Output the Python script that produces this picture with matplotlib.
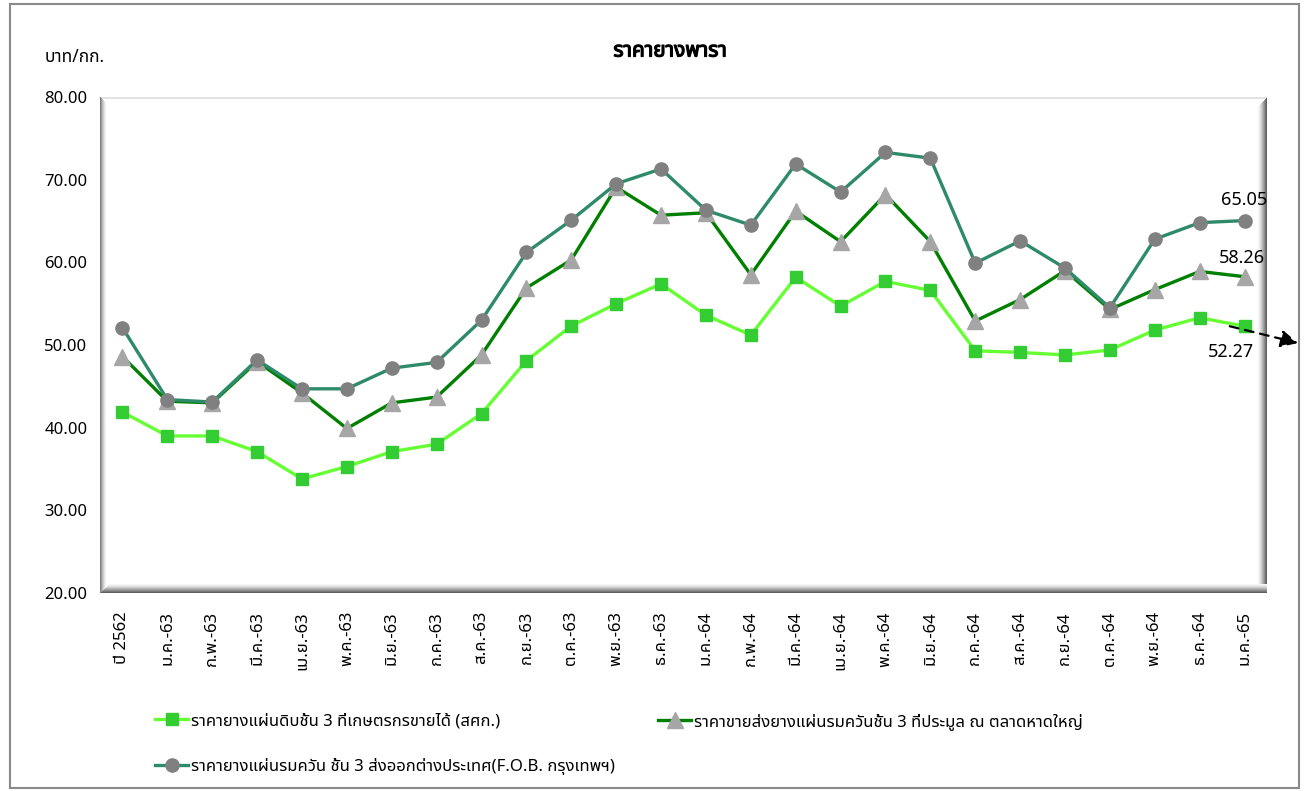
import matplotlib
matplotlib.use("Agg")
import matplotlib.pyplot as plt
import matplotlib.patheffects as pe
from matplotlib import font_manager
from matplotlib.patches import Rectangle

pref = ["Noto Sans Thai", "Noto Sans Thai Looped", "Sarabun", "Anuphan"]
installed = {f.name for f in font_manager.fontManager.ttflist}
thai_font = next((p for p in pref if p in installed), "DejaVu Sans")
plt.rcParams['font.family'] = [thai_font, 'DejaVu Sans']

months = ['ปี 2562', 'ม.ค.-63', 'ก.พ.-63', 'มี.ค.-63', 'เม.ย.-63', 'พ.ค.-63', 'มิ.ย.-63',
          'ก.ค.-63', 'ส.ค.-63', 'ก.ย.-63', 'ต.ค.-63', 'พ.ย.-63', 'ธ.ค.-63', 'ม.ค.-64',
          'ก.พ.-64', 'มี.ค.-64', 'เม.ย.-64', 'พ.ค.-64', 'มิ.ย.-64', 'ก.ค.-64', 'ส.ค.-64',
          'ก.ย.-64', 'ต.ค.-64', 'พ.ย.-64', 'ธ.ค.-64', 'ม.ค.-65']
raw_sheet = [41.9, 39.0, 39.0, 37.1, 33.8, 35.3, 37.1, 38.0, 41.7, 48.1, 52.3, 55.0, 57.4,
             53.6, 51.2, 58.2, 54.7, 57.7, 56.6, 49.3, 49.1, 48.8, 49.4, 51.8, 53.3, 52.27]
smoked_hy = [48.6, 43.2, 43.0, 48.0, 44.2, 39.9, 43.0, 43.7, 48.8, 56.9, 60.3, 69.1, 65.7,
             66.0, 58.5, 66.2, 62.5, 68.2, 62.5, 52.9, 55.5, 59.0, 54.3, 56.7, 58.9, 58.26]
smoked_fob = [52.1, 43.4, 43.1, 48.2, 44.7, 44.7, 47.2, 47.9, 53.0, 61.2, 65.1, 69.5, 71.3,
              66.3, 64.5, 71.9, 68.5, 73.3, 72.6, 59.9, 62.6, 59.3, 54.5, 62.8, 64.8, 65.05]
labels = ['ราคายางแผ่นดิบชั้น 3 ที่เกษตรกรขายได้ (สศก.)',
          'ราคาขายส่งยางแผ่นรมควันชั้น 3 ที่ประมูล ณ ตลาดหาดใหญ่',
          'ราคายางแผ่นรมควัน ชั้น 3 ส่งออกต่างประเทศ(F.O.B. กรุงเทพฯ)']

W, H = 1306, 791
fig = plt.figure(figsize=(W / 100, H / 100), dpi=100)
ax = fig.add_axes([100 / W, 1 - 593 / H, 1167 / W, 496 / H])

x = range(len(months))
l1, = ax.plot(x, raw_sheet, color='#66FF33', lw=2.4, marker='s', ms=8.8,
              mfc='#33CC33', mec='#33CC33', label=labels[0], zorder=3)
l2, = ax.plot(x, smoked_hy, color='#008000', lw=2.4, marker='^', ms=11,
              mfc='#A6A6A6', mec='#A6A6A6', label=labels[1], zorder=3)
l3, = ax.plot(x, smoked_fob, color='#2E8B6A', lw=2.4, marker='o', ms=9.5,
              mfc='#808080', mec='#808080', label=labels[2], zorder=3)

ax.set_xlim(-0.5, len(months) - 0.5)
ax.set_ylim(20, 80)
ax.set_yticks([20, 30, 40, 50, 60, 70, 80])
ax.set_yticklabels([f'{v:.2f}' for v in [20, 30, 40, 50, 60, 70, 80]], fontsize=12)
ax.set_xticks(list(x))
ax.set_xticklabels(months, rotation=90, fontsize=12)
ax.tick_params(length=0)
ax.tick_params(axis='y', pad=9)
ax.tick_params(axis='x', pad=13)
for s in ax.spines.values():
    s.set_visible(False)

# bevelled frame around the plot area (drawn under the lines and labels)
def px_rect(x0, y0, w, h, c):
    ax.add_patch(Rectangle((x0 / W, 1 - (y0 + h) / H), w / W, h / H, transform=fig.transFigure,
                           facecolor=c, edgecolor='none', clip_on=False, zorder=1))

px_rect(100, 97, 1167, 2, '#e2e2e2')
for i, c in enumerate(['#808080', '#9c9c9c', '#b8b8b8', '#d0d0d0', '#e4e4e4', '#f3f3f3']):
    px_rect(100 + i, 97 + i, 1, 496 - i, c)
shades = ['#f6f6f6', '#ececec', '#dedede', '#cccccc', '#b8b8b8', '#a2a2a2',
          '#8c8c8c', '#767676', '#606060']
for i, c in enumerate(shades):
    px_rect(1258 + i, 97 + 9 - i, 1, 496 - 9 + i, c)
for i, c in enumerate(shades):
    px_rect(100 + 9 - i, 584 + i, 1167 - 9 + i, 1, c)

# end labels
ax.annotate(f'{smoked_fob[-1]:.2f}', (25, smoked_fob[-1]), xytext=(0, 15),
            textcoords='offset points', ha='center', va='center', fontsize=13, zorder=5)
ax.annotate(f'{smoked_hy[-1]:.2f}', (25, smoked_hy[-1]), xytext=(-2, 13.5),
            textcoords='offset points', ha='center', va='center', fontsize=13, zorder=5)
ax.annotate(f'{raw_sheet[-1]:.2f}', (25, raw_sheet[-1]), xytext=(-10, -18.5),
            textcoords='offset points', ha='center', va='center', fontsize=13, zorder=5)
ax.annotate('', xy=(1298 / W, 1 - 343 / H), xycoords='figure fraction',
            xytext=(25 - 0.33, raw_sheet[-1]), textcoords='data', annotation_clip=False,
            arrowprops=dict(arrowstyle='-|>', color='black', lw=1.6, ls=(0, (4, 3)),
                            mutation_scale=26, shrinkA=0, shrinkB=0), zorder=5)

# outer chart border
fig.add_artist(Rectangle((10 / W, 1 - 788 / H), 1289 / W, 784 / H, transform=fig.transFigure,
                         facecolor='none', edgecolor='#8a8a8a', lw=1.5))

fig.text(670 / W, 1 - 51 / H, 'ราคายางพารา', ha='center', va='center', fontsize=15,
         fontweight='bold', path_effects=[pe.withStroke(linewidth=0.9, foreground='black')])
fig.text(45 / W, 1 - 57 / H, 'บาท/กก.', ha='left', va='center', fontsize=12.5)

leg_kw = dict(frameon=False, loc='upper left', fontsize=12, handlelength=2.0,
              handletextpad=0.15, labelspacing=1.75, borderpad=0, borderaxespad=0)
fig.legend([l1, l3], [labels[0], labels[2]], bbox_to_anchor=(155 / W, 1 - 713 / H), **leg_kw)
fig.legend([l2], [labels[1]], bbox_to_anchor=(658 / W, 1 - 713 / H), **leg_kw)

fig.savefig('out.png', dpi=100)
